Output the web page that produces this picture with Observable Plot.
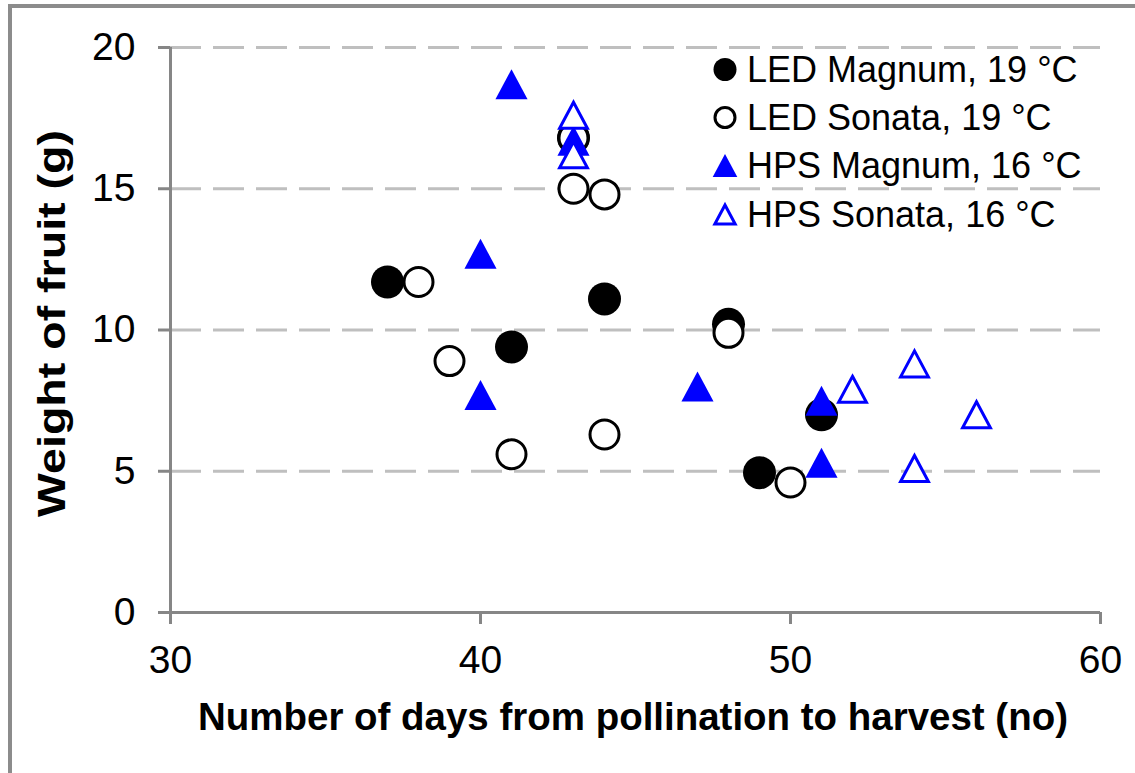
<!DOCTYPE html>
<html>
<head>
<meta charset="utf-8">
<script src="https://cdn.jsdelivr.net/npm/d3@7"></script>
<script src="https://cdn.jsdelivr.net/npm/@observablehq/plot@0.6"></script>
<style>
  html, body { margin: 0; padding: 0; background: #fff; }
  #chart { width: 1135px; height: 773px; }
</style>
</head>
<body>
<div id="chart"></div>
<script>
// ---- data ----
const seriesNames = ["LED Magnum, 19 °C", "LED Sonata, 19 °C", "HPS Magnum, 16 °C", "HPS Sonata, 16 °C"];

const ledMagnumDays   = [37, 41, 43, 44, 48, 49, 51];
const ledMagnumWeight = [11.7, 9.4, 16.8, 11.1, 10.2, 4.95, 7.0];

const ledSonataDays   = [38, 39, 41, 43, 43, 44, 44, 48, 50];
const ledSonataWeight = [11.7, 8.9, 5.6, 16.8, 15.0, 14.8, 6.3, 9.9, 4.6];

const hpsMagnumDays   = [40, 40, 41, 43, 47, 51, 51];
const hpsMagnumWeight = [12.7, 7.7, 18.7, 16.7, 8.0, 7.5, 5.3];

const hpsSonataDays   = [43, 43, 52, 54, 54, 56];
const hpsSonataWeight = [17.6, 16.2, 7.9, 8.8, 5.1, 7.0];

const xTicks = [30, 40, 50, 60];
const yTicks = [0, 5, 10, 15, 20];
const gridTicks = [5, 10, 15, 20];
const xTitle = "Number of days from pollination to harvest (no)";
const yTitle = "Weight of fruit (g)";

// ---- build tables ----
const zip = (xs, ys) => xs.map((d, i) => ({days: d, weight: ys[i]}));
const ledMagnum = zip(ledMagnumDays, ledMagnumWeight);
const ledSonata = zip(ledSonataDays, ledSonataWeight);
const hpsMagnum = zip(hpsMagnumDays, hpsMagnumWeight);
const hpsSonata = zip(hpsSonataDays, hpsSonataWeight);

// Excel-like triangle, centred on its bounding box
const excelTriangle = {
  draw(ctx, size) {
    const r = Math.sqrt(size / Math.PI);
    ctx.moveTo(0, -r);
    ctx.lineTo(r * 1.07, r);
    ctx.lineTo(-r * 1.07, r);
    ctx.closePath();
  }
};

const BLUE = "#0000ff";
const AXIS = "#868686";
const GRID = "#bfbfbf";

const plot = Plot.plot({
  width: 1135,
  height: 773,
  marginLeft: 170,
  marginRight: 35,
  marginTop: 47,
  marginBottom: 161,
  style: {fontFamily: "'Liberation Sans', Arial, sans-serif", fontSize: "39px", color: "#000", background: "#fff", overflow: "visible"},
  x: {domain: [30, 60]},
  y: {domain: [0, 20]},
  marks: [
    Plot.gridY(gridTicks, {stroke: GRID, strokeOpacity: 1, strokeWidth: 3, strokeDasharray: "31,12"}),
    Plot.ruleY([0], {stroke: AXIS, strokeWidth: 3}),
    Plot.ruleX([30], {stroke: AXIS, strokeWidth: 3}),
    Plot.axisY({ticks: yTicks, tickSize: 12, tickPadding: 23, stroke: AXIS, strokeWidth: 3, strokeOpacity: 1, fontSize: 39, label: null}),
    Plot.axisX({ticks: xTicks, tickSize: 12, tickPadding: 21, stroke: AXIS, strokeWidth: 3, strokeOpacity: 1, fontSize: 39, label: null}),
    Plot.dot(ledMagnum, {x: "days", y: "weight", symbol: "circle", r: 16.5, fill: "#000", stroke: "none"}),
    Plot.dot(ledSonata, {x: "days", y: "weight", symbol: "circle", r: 14.5, fill: "#fff", stroke: "#000", strokeWidth: 3}),
    Plot.dot(hpsMagnum, {x: "days", y: "weight", symbol: excelTriangle, r: 15, fill: BLUE, stroke: "none"}),
    Plot.dot(hpsSonata, {x: "days", y: "weight", symbol: excelTriangle, r: 13, fill: "#fff", stroke: BLUE, strokeWidth: 3})
  ]
});

document.getElementById("chart").appendChild(plot);

// ---- titles, legend, outer frame ----
const svg = d3.select(plot);

svg.append("path")
  .attr("d", "M10,1135 L10,6 L1140,6")
  .attr("fill", "none").attr("stroke", "#8c8c8c").attr("stroke-width", 4);

svg.append("text")
  .attr("x", 198).attr("y", 730)
  .attr("text-anchor", "start")
  .attr("font-weight", "bold").attr("font-size", 39)
  .attr("textLength", 870).attr("lengthAdjust", "spacingAndGlyphs")
  .attr("fill", "#000")
  .text(xTitle);

svg.append("text")
  .attr("transform", "translate(65,323.5) rotate(-90)")
  .attr("text-anchor", "middle")
  .attr("font-weight", "bold").attr("font-size", 39)
  .attr("textLength", 387).attr("lengthAdjust", "spacingAndGlyphs")
  .attr("fill", "#000")
  .text(yTitle);

const legendStyles = [
  {type: "circle", r: 11.5, fill: "#000", stroke: "none", sw: 0},
  {type: "circle", r: 10, fill: "#fff", stroke: "#000", sw: 3},
  {type: "tri", r: 11.5, fill: BLUE, stroke: "none", sw: 0},
  {type: "tri", r: 9.5, fill: "#fff", stroke: BLUE, sw: 3}
];
const legendRowY = [69.5, 117.5, 165.5, 214.5];
const lg = svg.append("g").attr("font-size", 36).attr("fill", "#000").attr("text-anchor", "start");
seriesNames.forEach((name, i) => {
  const s = legendStyles[i];
  const p = d3.path();
  if (s.type === "circle") {
    p.arc(0, 0, s.r, 0, 2 * Math.PI); p.closePath();
  } else {
    excelTriangle.draw(p, Math.PI * s.r * s.r);
  }
  lg.append("path")
    .attr("transform", `translate(725,${legendRowY[i]})`)
    .attr("d", p.toString())
    .attr("fill", s.fill).attr("stroke", s.stroke).attr("stroke-width", s.sw);
  lg.append("text")
    .attr("x", 747).attr("y", legendRowY[i] + 12.8)
    .attr("text-anchor", "start")
    .text(name);
});
</script>
</body>
</html>
